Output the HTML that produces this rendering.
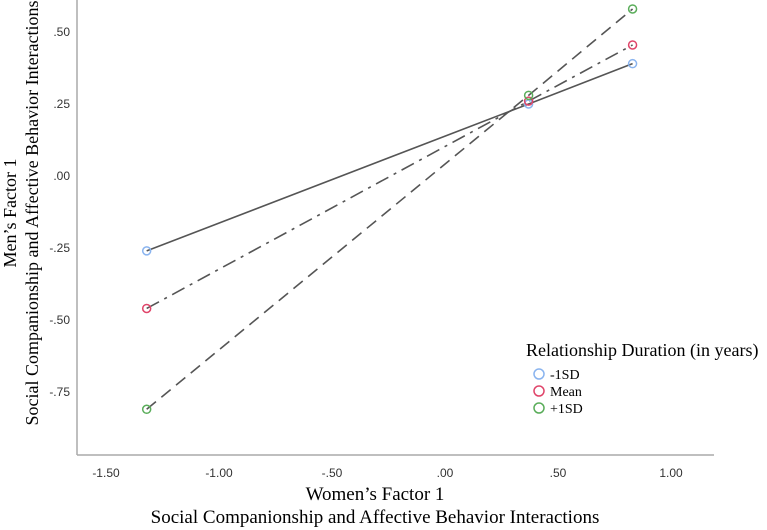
<!DOCTYPE html>
<html><head><meta charset="utf-8"><style>
body{margin:0;background:#fff;}
svg{display:block;font-family:"Liberation Serif",serif;}
.tick{font-family:"Liberation Sans",sans-serif;font-size:12px;fill:#333;}
</style></head><body>
<svg id="chart" width="767" height="530">
<line x1="77" y1="0" x2="77" y2="455" stroke="#aaa" stroke-width="1.5"/>
<line x1="77" y1="455" x2="714" y2="455" stroke="#aaa" stroke-width="1.5"/>
<g id="xticks"></g><g id="yticks"></g><g id="lines"></g><g id="pts"></g>
<text x="375" y="500" text-anchor="middle" font-size="19">Women’s Factor 1</text>
<text x="375" y="523" text-anchor="middle" font-size="19">Social Companionship and Affective Behavior Interactions</text>
<text transform="translate(16,213) rotate(-90)" text-anchor="middle" font-size="18">Men’s Factor 1</text>
<text transform="translate(38,213) rotate(-90)" text-anchor="middle" font-size="18">Social Companionship and Affective Behavior Interactions</text>
<g>
<text x="526" y="356" font-size="18">Relationship Duration (in years)</text>
<g><circle cx="539" cy="374" r="5" fill="none" stroke="#8ab4ef" stroke-width="1.5"/><text x="550" y="379" font-size="14">-1SD</text></g>
<g><circle cx="539" cy="391" r="5" fill="none" stroke="#e0456a" stroke-width="1.5"/><text x="550" y="396" font-size="14">Mean</text></g>
<g><circle cx="539" cy="408" r="5" fill="none" stroke="#5aad5a" stroke-width="1.5"/><text x="550" y="413" font-size="14">+1SD</text></g>
</g>
</svg>
<script>
const xValues=[-1.32,0.37,0.83];
const seriesLow=[-0.26,0.25,0.39];
const seriesMean=[-0.46,0.26,0.455];
const seriesHigh=[-0.81,0.28,0.58];
const xTickVals=[-1.5,-1,-0.5,0,0.5,1];
const xTickLabels=["-1.50","-1.00","-.50",".00",".50","1.00"];
const yTickVals=[0.5,0.25,0,-0.25,-0.5,-0.75];
const yTickLabels=[".50",".25",".00","-.25","-.50","-.75"];
const NS="http://www.w3.org/2000/svg";
function X(v){return 445+v*226;}
function Y(v){return 176-v*288;}
function mk(tag,attrs,parent){const e=document.createElementNS(NS,tag);for(const k in attrs)e.setAttribute(k,attrs[k]);document.getElementById(parent).appendChild(e);return e;}
xTickVals.forEach((v,i)=>{const t=mk('text',{x:X(v),y:477,'text-anchor':'middle',class:'tick'},'xticks');t.textContent=xTickLabels[i];

});
yTickVals.forEach((v,i)=>{const t=mk('text',{x:70,y:Y(v)+4,'text-anchor':'end',class:'tick'},'yticks');t.textContent=yTickLabels[i];

});
const defs=[[seriesLow,'#8ab4ef','none','line-minus1sd'],[seriesMean,'#e0456a','14,6,3,6','line-mean'],[seriesHigh,'#5aad5a','12,7','line-plus1sd']];
defs.forEach(d=>{const pts=xValues.map((x,i)=>X(x)+','+Y(d[0][i])).join(' ');
const p=mk('polyline',{points:pts,fill:'none',stroke:'#555','stroke-width':1.6,'stroke-dasharray':d[2]},'lines');


xValues.forEach((x,i)=>{const c=mk('circle',{cx:X(x),cy:Y(d[0][i]),r:4,fill:'none',stroke:d[1],'stroke-width':1.5},'pts');

});});
</script>
</body></html>
